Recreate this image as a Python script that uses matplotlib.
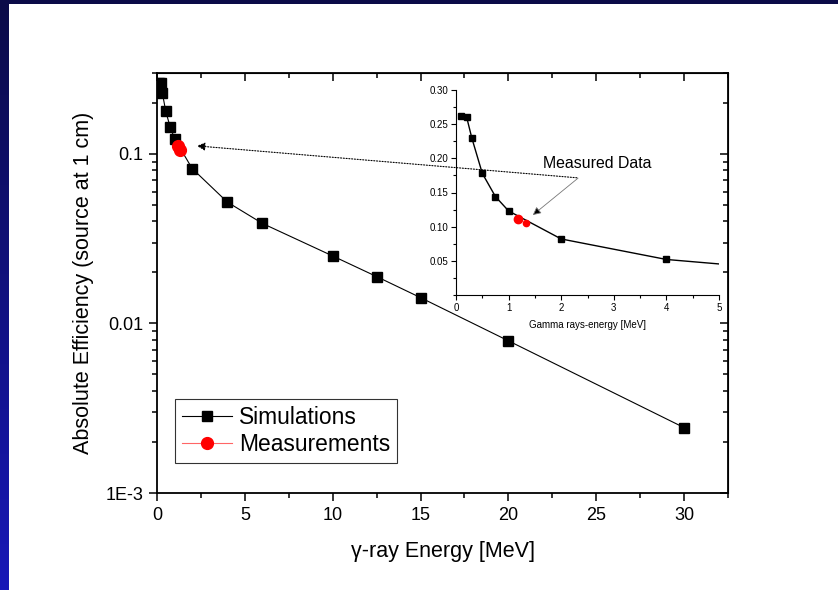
import matplotlib
matplotlib.use("Agg")
from matplotlib import pyplot as plt
from matplotlib.ticker import MultipleLocator, LogLocator, NullFormatter, FixedLocator, FixedFormatter
from matplotlib.patches import Rectangle
import numpy as np

plt.rcParams['font.family'] = ['Liberation Sans', 'DejaVu Sans']

# simulated absolute efficiency vs gamma energy
sim_energy = [0.1, 0.2, 0.3, 0.5, 0.75, 1.0, 2.0, 4.0, 6.0, 10.0, 12.5, 15.0, 20.0, 30.0]
sim_eff = [0.262, 0.261, 0.230, 0.178, 0.144, 0.123, 0.082, 0.052, 0.0389, 0.025,
           0.0189, 0.0142, 0.0079, 0.00243]

# measured points (Co-60 lines)
meas_energy = [1.173, 1.332]
meas_eff = [0.111, 0.105]

main_yticks = [0.001, 0.01, 0.1]
main_ylabels = ["1E-3", "0.01", "0.1"]

fig = plt.figure(figsize=(8.38, 5.9), dpi=100)
fig.patch.set_facecolor("white")

# dark blue slide frame (top + left edge)
fig.patches.append(Rectangle((0, 1 - 4 / 590), 1, 4 / 590, transform=fig.transFigure,
                             facecolor="#0b0b48", edgecolor="none", zorder=0))
band = fig.add_axes([0, 0, 8 / 838, 1 - 4 / 590])
grad = np.linspace(0, 1, 256).reshape(-1, 1)
cmap = matplotlib.colors.LinearSegmentedColormap.from_list("band", ["#0b0b48", "#1818b8"])
band.imshow(grad, aspect="auto", cmap=cmap, extent=[0, 1, 0, 1], origin="upper")
band.axis("off")

ax = fig.add_axes([157 / 838, 1 - 493 / 590, 571 / 838, 420 / 590])
ax.plot(sim_energy, sim_eff, color="black", lw=0.8, marker="s", ms=7.5,
        mfc="black", mec="black", label="Simulations", zorder=3)
ax.plot(meas_energy, meas_eff, color="red", lw=0, marker="o", ms=8.5,
        mfc="red", mec="red", label="Measurements", zorder=4)
ax.set_yscale("log")
ax.set_xlim(0, 32.5)
ax.set_ylim(0.001, 0.3)
ax.xaxis.set_major_locator(MultipleLocator(5))
ax.xaxis.set_minor_locator(MultipleLocator(2.5))
ax.yaxis.set_major_locator(FixedLocator(main_yticks))
ax.yaxis.set_major_formatter(FixedFormatter(main_ylabels))
ax.yaxis.set_minor_locator(LogLocator(base=10, subs=np.arange(2, 10)))
ax.yaxis.set_minor_formatter(NullFormatter())
ax.tick_params(which="both", direction="out", labelsize=13, width=1.1)
ax.tick_params(which="major", length=6, pad=4)
ax.tick_params(which="minor", length=3.5)
for s in ax.spines.values():
    s.set_linewidth(1.3)
ax.set_xlabel("γ-ray Energy [MeV]", fontsize=15.5, labelpad=12)
ax.set_ylabel("Absolute Efficiency (source at 1 cm)", fontsize=15.5, labelpad=8)

# mirrored ticks on top and right, pointing inward
top = ax.secondary_xaxis("top")
top.xaxis.set_major_locator(MultipleLocator(5))
top.xaxis.set_minor_locator(MultipleLocator(2.5))
top.tick_params(which="both", direction="in", labeltop=False, width=1.1)
top.tick_params(which="major", length=6)
top.tick_params(which="minor", length=3.5)
right = ax.secondary_yaxis("right")
right.yaxis.set_major_locator(FixedLocator(main_yticks))
right.yaxis.set_minor_locator(LogLocator(base=10, subs=np.arange(2, 10)))
right.tick_params(which="both", direction="in", labelright=False, width=1.1)
right.tick_params(which="major", length=6)
right.tick_params(which="minor", length=3.5)
right.yaxis.set_major_formatter(NullFormatter())
right.yaxis.set_minor_formatter(NullFormatter())

leg = ax.legend(loc="lower left", bbox_to_anchor=(0.0315, 0.071), fontsize=16.4,
                frameon=True, fancybox=False, edgecolor="black", borderaxespad=0,
                handlelength=2.2, handletextpad=0.3, borderpad=0.3, labelspacing=0.2)
leg.get_frame().set_linewidth(0.8)
leg.legend_handles[1].set_linewidth(0.8)
leg.legend_handles[1].set_linestyle("-")
leg.legend_handles[1].set_color("#ff6666")
leg.legend_handles[1].set_markerfacecolor("red")
leg.legend_handles[1].set_markeredgecolor("red")

# inset: linear zoom on the low-energy region
ins = fig.add_axes([456 / 838, 1 - 295 / 590, 263 / 838, 205 / 590])
ins.plot(sim_energy, sim_eff, color="black", lw=1.0, marker="s", ms=4.5,
         mfc="black", mec="black", zorder=3)
ins.plot(meas_energy[:1], meas_eff[:1], lw=0, marker="o", ms=6, color="red", zorder=4)
ins.plot(meas_energy[1:], meas_eff[1:], lw=0, marker="o", ms=4.5, color="red", zorder=4)
ins.set_xlim(0, 5)
ins.set_ylim(0, 0.3)
ins.patch.set_alpha(0)
ins.spines["top"].set_visible(False)
ins.spines["right"].set_visible(False)
ins.xaxis.set_major_locator(MultipleLocator(1))
ins.xaxis.set_minor_locator(MultipleLocator(0.5))
ins.yaxis.set_major_locator(FixedLocator([0.05, 0.10, 0.15, 0.20, 0.25, 0.30]))
ins.yaxis.set_minor_locator(MultipleLocator(0.025))
ins.yaxis.set_major_formatter(matplotlib.ticker.FormatStrFormatter("%.2f"))
ins.tick_params(which="both", direction="out", labelsize=7, width=0.8)
ins.tick_params(which="major", length=3.5, pad=2)
ins.tick_params(which="minor", length=2)
ins.set_xlabel("Gamma rays-energy [MeV]", fontsize=7, labelpad=5)

# annotation arrows
ax.annotate("", xy=(2.27, 0.1115), xytext=(23.9, 0.0723),
            arrowprops=dict(arrowstyle="-|>", linestyle=(0, (1, 1.5)), lw=0.8,
                            color="black", mutation_scale=12, shrinkA=0, shrinkB=0))
ins.annotate("", xy=(1.46, 0.117), xytext=(2.32, 0.171),
             arrowprops=dict(arrowstyle="-|>", lw=0.6, color="#555555",
                             mutation_scale=12, shrinkA=0, shrinkB=0,
                             fc="black", ec="#777777"))
ins.text(2.68, 0.193, "Measured Data", fontsize=11.4, ha="center", va="center")

fig.savefig("out.png", dpi=100, facecolor="white")
